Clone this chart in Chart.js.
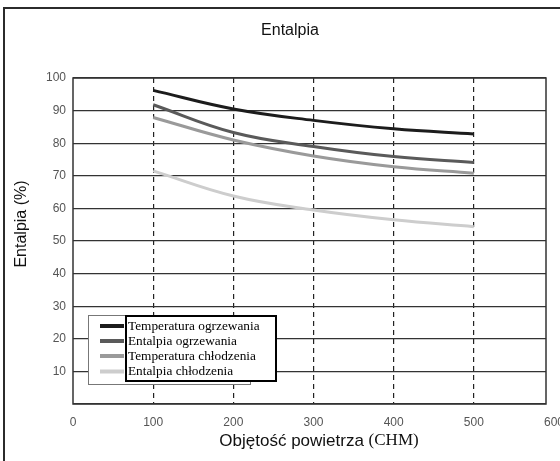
<!DOCTYPE html>
<html>
<head>
<meta charset="utf-8">
<script src="https://cdn.jsdelivr.net/npm/chart.js@4/dist/chart.umd.min.js"></script>
<style>
  html, body { margin: 0; padding: 0; background: #fff; overflow: hidden; }
  #wrap { position: relative; width: 560px; height: 461px; overflow: hidden; }
  #frame { position: absolute; left: 3px; top: 7px; width: 620px; height: 520px; border: 2px solid #2b2b2b; box-sizing: border-box; }
  #chart { position: absolute; left: 0; top: 0; }
</style>
</head>
<body>
<div id="wrap">
  <div id="frame"></div>
  <canvas id="chart" width="580" height="461"></canvas>
</div>
<script>
// air volume (CHM)
const volumes = [100, 200, 300, 400, 500];
const xTicks = [0, 100, 200, 300, 400, 500, 600];

const seriesNames = [
  'Temperatura ogrzewania',
  'Entalpia ogrzewania',
  'Temperatura chłodzenia',
  'Entalpia chłodzenia'
];
const tempHeating = [96.2, 90.5, 87.0, 84.4, 82.8];
const enthHeating = [91.8, 83.3, 79.0, 75.9, 74.1];
const tempCooling = [87.9, 81.0, 76.1, 72.8, 70.8];
const enthCooling = [71.5, 63.8, 59.5, 56.5, 54.4];
const seriesColors = ['#1c1c1c', '#5a5a5a', '#9a9a9a', '#cdcdcd'];

const sans = '"Liberation Sans", Arial, sans-serif';
const serif = '"Liberation Serif", "Times New Roman", serif';

const toPoints = (ys) => ys.map((y, i) => ({ x: volumes[i], y }));

// frame around the plot, titles and the boxed legend
const decorations = {
  id: 'decorations',
  beforeDatasetsDraw(chart) {
    const { ctx, chartArea: a } = chart;
    ctx.save();
    ctx.strokeStyle = '#333';
    ctx.lineWidth = 1.5;
    ctx.strokeRect(a.left, a.top, a.right - a.left, a.bottom - a.top);
    ctx.restore();
  },
  afterDraw(chart) {
    const { ctx } = chart;
    ctx.save();
    ctx.fillStyle = '#111';
    ctx.textBaseline = 'middle';

    ctx.font = '16px ' + sans;
    ctx.textAlign = 'center';
    ctx.fillText('Entalpia', 290, 31);

    // x axis title, unit in serif
    const t1 = 'Objętość powietrza ';
    const t2 = '(CHM)';
    ctx.font = '17px ' + sans;
    const w1 = ctx.measureText(t1).width;
    ctx.font = '17px ' + serif;
    const w2 = ctx.measureText(t2).width;
    const x0 = 319 - (w1 + w2) / 2;
    ctx.textAlign = 'left';
    ctx.font = '17px ' + sans;
    ctx.fillText(t1, x0, 441);
    ctx.font = '17px ' + serif;
    ctx.fillText(t2, x0 + w1, 441);

    // y axis title
    ctx.save();
    ctx.translate(22, 224);
    ctx.rotate(-Math.PI / 2);
    ctx.textAlign = 'center';
    ctx.font = '16px ' + sans;
    ctx.fillText('Entalpia (%)', 0, 0);
    ctx.restore();

    // legend: outer grey box with samples, inner black box with names
    ctx.fillStyle = '#fff';
    ctx.fillRect(88, 315, 162, 69);
    ctx.strokeStyle = '#777';
    ctx.lineWidth = 1;
    ctx.strokeRect(88.5, 315.5, 162, 69);

    ctx.fillRect(126, 316, 150, 65);
    ctx.strokeStyle = '#000';
    ctx.lineWidth = 2;
    ctx.strokeRect(126, 316, 150, 65);

    const rows = [326, 341, 356, 371.5];
    chart.data.datasets.forEach((ds, i) => {
      ctx.strokeStyle = ds.borderColor;
      ctx.lineWidth = 4;
      ctx.beginPath();
      ctx.moveTo(100, rows[i]);
      ctx.lineTo(124, rows[i]);
      ctx.stroke();
      ctx.fillStyle = '#000';
      ctx.font = '13.3px ' + serif;
      ctx.textAlign = 'left';
      ctx.fillText(ds.label, 128, rows[i] + 0.5);
    });
    ctx.restore();
  }
};

const datasets = [tempHeating, enthHeating, tempCooling, enthCooling].map((ys, i) => ({
  label: seriesNames[i],
  data: toPoints(ys),
  borderColor: seriesColors[i],
  borderWidth: 3,
  pointRadius: 0,
  tension: 0.4,
  fill: false
}));

new Chart(document.getElementById('chart'), {
  type: 'line',
  data: { datasets },
  options: {
    responsive: false,
    animation: false,
    layout: { padding: { top: 78, right: 34, left: 0, bottom: 0 } },
    plugins: { legend: { display: false }, tooltip: { enabled: false }, title: { display: false } },
    scales: {
      x: {
        type: 'linear',
        min: 0,
        max: 590,
        afterBuildTicks: (scale) => { scale.ticks = xTicks.map(v => ({ value: v })); },
        afterFit: (scale) => { scale.height = 57; },
        border: { display: false, dash: [5, 4] },
        grid: {
          drawTicks: false,
          color: (c) => (c.tick && (c.tick.value === 0 || c.tick.value === 600)) ? 'rgba(0,0,0,0)' : '#222',
          lineWidth: 1.2
        },
        ticks: {
          padding: 11,
          color: '#555',
          font: { family: sans, size: 12 },
          maxRotation: 0,
          autoSkip: false
        }
      },
      y: {
        min: 0,
        max: 100,
        afterFit: (scale) => { scale.width = 73; },
        border: { display: false },
        grid: { drawTicks: false, color: '#333', lineWidth: 1.2 },
        ticks: {
          stepSize: 10,
          padding: 7,
          color: '#555',
          font: { family: sans, size: 12 },
          callback: (v) => (v === 0 ? '' : v)
        }
      }
    }
  },
  plugins: [decorations]
});
</script>
</body>
</html>
